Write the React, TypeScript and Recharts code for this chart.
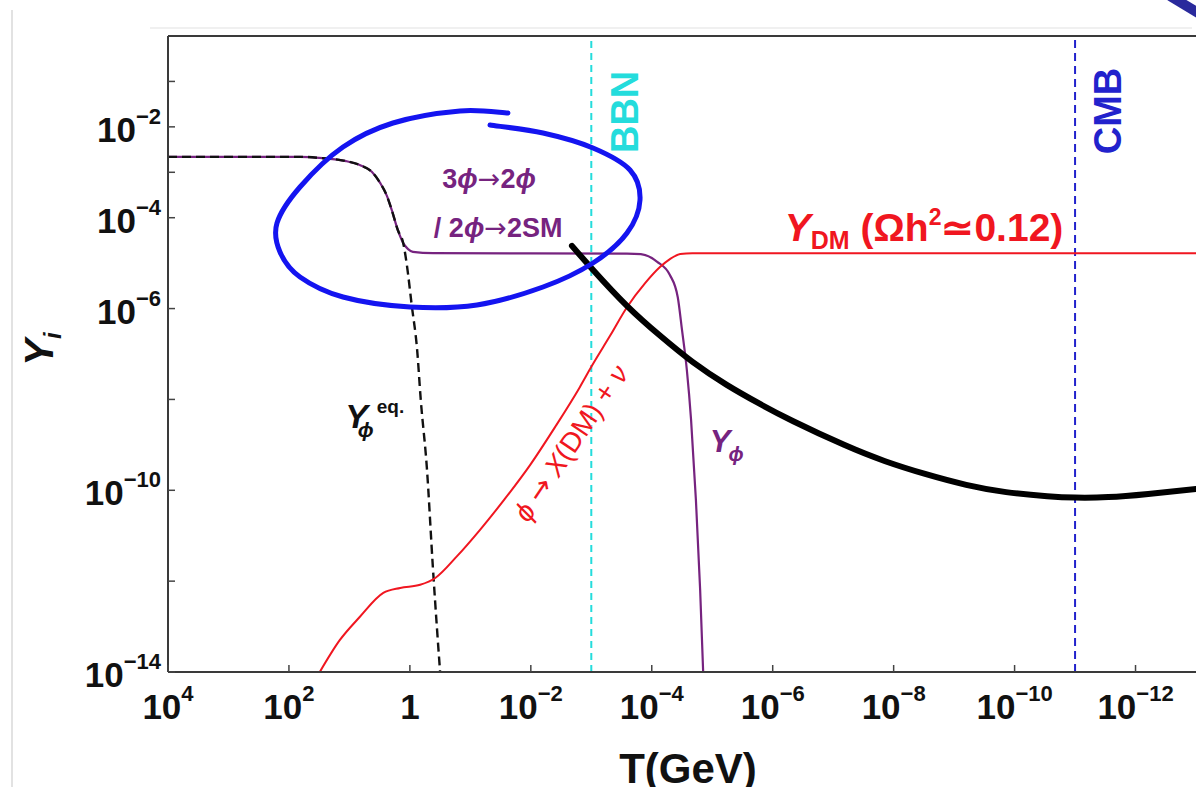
import { LineChart, Line, XAxis, YAxis, ReferenceLine, ReferenceDot } from 'recharts'

// all values are log10: t = log10(T / GeV), y = log10(Y)
const yPhi = [
  [4, -2.66], [1.82, -2.66], [1.44, -2.69], [1.07, -2.75], [0.83, -2.84], [0.63, -2.99],
  [0.49, -3.24], [0.38, -3.52], [0.3, -3.83], [0.2, -4.27], [0.11, -4.56], [0.03, -4.69],
  [-0.05, -4.75], [-0.38, -4.78], [-3.59, -4.79], [-3.82, -4.8], [-4.09, -4.97], [-4.3, -5.26],
  [-4.43, -5.75], [-4.5, -6.47], [-4.58, -7.35], [-4.65, -8.45], [-4.73, -10.21], [-4.8, -12.19],
  [-4.85, -14],
]

const yPhiEq = [
  [4, -2.66], [1.82, -2.66], [1.44, -2.69], [1.07, -2.75], [0.83, -2.84], [0.63, -2.99],
  [0.49, -3.24], [0.38, -3.52], [0.3, -3.83], [0.2, -4.27], [0.11, -4.56], [0.05, -5.04],
  [-0.03, -5.92], [-0.12, -6.91], [-0.18, -8.01], [-0.28, -9.49], [-0.38, -11.69],
  [-0.45, -13.08], [-0.5, -14],
]

const yDM = [
  [1.49, -14], [1.16, -13.3], [0.83, -12.79], [0.44, -12.26], [0.16, -12.15], [-0.17, -12.08],
  [-0.42, -11.93], [-0.78, -11.45], [-1.16, -10.87], [-1.57, -10.19], [-1.99, -9.44],
  [-2.4, -8.61], [-2.81, -7.73], [-3.01, -7.26], [-3.31, -6.6], [-3.59, -5.97], [-3.89, -5.44],
  [-4.14, -5.08], [-4.3, -4.91], [-4.47, -4.8], [-4.67, -4.78], [-13, -4.78],
]

// thick black hand-drawn curve
const handCurve = [
  [-2.68, -4.62], [-3.03, -5.15], [-3.59, -5.94], [-4.14, -6.6], [-4.68, -7.18], [-5.24, -7.68],
  [-5.79, -8.1], [-6.34, -8.48], [-7.18, -9.0], [-7.86, -9.36], [-8.52, -9.64], [-9.2, -9.88],
  [-9.86, -10.04], [-10.54, -10.13], [-11, -10.16], [-11.55, -10.15], [-12.21, -10.08], [-13, -9.97],
]

const BBN = -3
const CMB = -11

const xTicks = [4, 2, 0, -2, -4, -6, -8, -10, -12]
const yTicks = [-1, -2, -3, -4, -6, -8, -10, -12, -14]
const yLabeled = [-2, -4, -6, -10, -14]

const FONT = '"Liberation Sans", Arial, Helvetica, sans-serif'
const ARROW_FONT = '"DejaVu Sans", sans-serif'
const PLOT = { left: 168, top: 36, right: 1196, bottom: 672 }
const PURPLE = '#76237f'
const RED = '#f01620'
const CYAN = '#24dcdc'
const BLUE = '#2222cc'

const rows = (pts: number[][]) => pts.map(([t, y]) => ({ t, y }))
const sup = (e: number) => (e < 0 ? `\u2212${-e}` : `${e}`)

const XTick = ({ x, payload }: any) => {
  const v = payload.value
  return (
    <g>
      <line x1={x} x2={x} y1={PLOT.bottom} y2={PLOT.bottom - 7} stroke="#444" strokeWidth={1.5} />
      <text x={x} y={719} textAnchor="middle" fontFamily={FONT} fontWeight="bold" fontSize={35} fill="#111">
        {v === 0 ? '1' : (
          <>
            10<tspan dy={-18} fontSize={22}>{sup(v)}</tspan>
          </>
        )}
      </text>
    </g>
  )
}

const YTick = ({ y, payload }: any) => {
  const v = payload.value
  return (
    <g>
      <line x1={PLOT.left} x2={PLOT.left + 7} y1={y} y2={y} stroke="#444" strokeWidth={1.5} />
      {yLabeled.includes(v) && (
        <text x={161} y={y + 15} textAnchor="end" fontFamily={FONT} fontWeight="bold" fontSize={35} fill="#111">
          10<tspan dy={-18} fontSize={22}>{sup(v)}</tspan>
        </text>
      )}
    </g>
  )
}

// label anchored at a data point, drawn by a callback
const Anchor = ({ viewBox, draw }: any) => {
  if (!viewBox) return null
  return draw(viewBox.x + (viewBox.width || 0) / 2, viewBox.y + (viewBox.height || 0) / 2)
}

const note = (t: number, y: number, draw: (x: number, y: number) => any) => (
  <ReferenceDot
    x={t}
    y={y}
    r={0}
    fill="none"
    stroke="none"
    ifOverflow="visible"
    label={<Anchor draw={draw} />}
  />
)

const phi = (size: number) => (
  <tspan fontStyle="italic" fontSize={size}>ϕ</tspan>
)
const arrow = <tspan fontFamily={ARROW_FONT} fontWeight="normal">→</tspan>

// hand-drawn ellipse annotation (pixel overlay)
const ellipsePts = [
  [508, 113], [460, 111], [393, 123], [343, 147], [300, 187], [277, 223], [280, 252], [300, 277],
  [343, 297], [410, 307], [477, 305], [543, 287], [593, 263], [627, 233], [640, 200], [630, 170],
  [593, 148], [543, 133], [490, 125],
]

const smooth = (pts: number[][]) => {
  let d = `M${pts[0][0]},${pts[0][1]}`
  for (let i = 0; i < pts.length - 1; i++) {
    const p0 = pts[i - 1] || pts[i]
    const p1 = pts[i]
    const p2 = pts[i + 1]
    const p3 = pts[i + 2] || p2
    const c1x = p1[0] + (p2[0] - p0[0]) / 6
    const c1y = p1[1] + (p2[1] - p0[1]) / 6
    const c2x = p2[0] - (p3[0] - p1[0]) / 6
    const c2y = p2[1] - (p3[1] - p1[1]) / 6
    d += ` C${c1x},${c1y} ${c2x},${c2y} ${p2[0]},${p2[1]}`
  }
  return d
}

export default function App() {
  return (
    <div style={{ position: 'fixed', left: 0, top: 0, width: 1196, height: 787, background: '#fff', overflow: 'hidden' }}>
      <LineChart width={1196} height={787} margin={{ top: PLOT.top, right: 0, bottom: 0, left: 0 }}>
        <XAxis
          type="number"
          dataKey="t"
          domain={[-13, 4]}
          reversed
          allowDataOverflow
          ticks={xTicks}
          interval={0}
          height={115}
          tickLine={false}
          axisLine={{ stroke: '#3a3a3a', strokeWidth: 2 }}
          tick={<XTick />}
        />
        <YAxis
          type="number"
          dataKey="y"
          domain={[-14, 0]}
          allowDataOverflow
          ticks={yTicks}
          interval={0}
          width={168}
          tickLine={false}
          axisLine={{ stroke: '#3a3a3a', strokeWidth: 2 }}
          tick={<YTick />}
        />
        <ReferenceLine y={0} stroke="#3a3a3a" strokeWidth={2} />
        <ReferenceLine x={BBN} stroke={CYAN} strokeWidth={2} strokeDasharray="7 5" />
        <ReferenceLine x={CMB} stroke={BLUE} strokeWidth={2} strokeDasharray="8 5" />

        <Line data={rows(yPhi)} dataKey="y" type="monotone" stroke={PURPLE} strokeWidth={2.2} dot={false} activeDot={false} isAnimationActive={false} />
        <Line data={rows(yPhiEq)} dataKey="y" type="monotone" stroke="#111" strokeWidth={2.4} strokeDasharray="9 5" dot={false} activeDot={false} isAnimationActive={false} />
        <Line data={rows(yDM)} dataKey="y" type="monotone" stroke={RED} strokeWidth={2} dot={false} activeDot={false} isAnimationActive={false} />
        <Line data={rows(handCurve)} dataKey="y" type="natural" stroke="#000" strokeWidth={6} strokeLinecap="round" dot={false} activeDot={false} isAnimationActive={false} />

        {note(-1.31, -3.35, (x, y) => (
          <text x={x} y={y} textAnchor="middle" fontFamily={FONT} fontWeight="bold" fontSize={27} fill={PURPLE}>
            3{phi(27)}{arrow}2{phi(27)}
          </text>
        ))}
        {note(-1.46, -4.42, (x, y) => (
          <text x={x} y={y} textAnchor="middle" fontFamily={FONT} fontWeight="bold" fontSize={27} fill={PURPLE}>
            / 2{phi(27)}{arrow}2SM
          </text>
        ))}
        {note(-6.2, -4.51, (x, y) => (
          <text x={x} y={y} fontFamily={FONT} fontWeight="bold" fontSize={39} fill={RED}>
            <tspan fontStyle="italic">Y</tspan>
            <tspan fontSize={25} dy={8}>DM</tspan>
            <tspan dy={-8}> (Ωh</tspan>
            <tspan fontSize={23} dy={-16}>2</tspan>
            <tspan dy={16}>≃0.12)</tspan>
          </text>
        ))}
        {note(-3.77, -1.67, (x, y) => (
          <text x={x} y={y} textAnchor="middle" transform={`rotate(-90 ${x} ${y})`} fontFamily={FONT} fontWeight="bold" fontSize={38} fill={CYAN}>
            BBN
          </text>
        ))}
        {note(-11.76, -1.65, (x, y) => (
          <text x={x} y={y} textAnchor="middle" transform={`rotate(-90 ${x} ${y})`} fontFamily={FONT} fontWeight="bold" fontSize={38} fill={BLUE}>
            CMB
          </text>
        ))}
        {note(1.07, -8.63, (x, y) => (
          <text x={x} y={y} fontFamily={FONT} fontWeight="bold" fontSize={34} fill="#111">
            <tspan fontStyle="italic">Y</tspan>
            <tspan fontStyle="italic" fontSize={21} dx={-10} dy={9}>ϕ</tspan>
            <tspan fontSize={19} dx={3} dy={-24}>eq.</tspan>
          </text>
        ))}
        {note(-4.96, -9.16, (x, y) => (
          <text x={x} y={y} fontFamily={FONT} fontWeight="bold" fontSize={31} fill={PURPLE}>
            <tspan fontStyle="italic">Y</tspan>
            <tspan fontStyle="italic" fontSize={20} dx={-2} dy={9}>ϕ</tspan>
          </text>
        ))}
        {note(-2.66, -8.96, (x, y) => (
          <text x={x} y={y} textAnchor="middle" dominantBaseline="central" transform={`rotate(-56 ${x} ${y})`} fontFamily={FONT} fontSize={28} fill={RED}>
            <tspan fontStyle="italic">ϕ</tspan> <tspan fontFamily={ARROW_FONT}>→</tspan> <tspan fontStyle="italic">X</tspan>(DM) + <tspan fontStyle="italic">ν</tspan>
          </text>
        ))}
      </LineChart>

      <svg width={1196} height={787} style={{ position: 'absolute', left: 0, top: 0, pointerEvents: 'none' }}>
        <line x1={12} x2={12} y1={10} y2={787} stroke="#e2e2e2" strokeWidth={2} />
        <line x1={150} x2={1192} y1={28} y2={28} stroke="#f0f0f0" strokeWidth={2} />
        <path d={smooth(ellipsePts)} fill="none" stroke="#1414f0" strokeWidth={5} strokeLinecap="round" strokeLinejoin="round" />
        <path d="M1170,-4 L1200,14" stroke="#2a2a9c" strokeWidth={10} />
        <text x={53} y={349} textAnchor="middle" transform="rotate(-90 53 349)" fontFamily={FONT} fontWeight="bold" fontSize={40} fill="#111">
          <tspan fontStyle="italic">Y</tspan>
          <tspan fontStyle="italic" fontSize={24} dy={8}>i</tspan>
        </text>
        <text x={(PLOT.left + PLOT.right) / 2 + 6} y={783} textAnchor="middle" fontFamily={FONT} fontWeight="bold" fontSize={42} fill="#111">
          T(GeV)
        </text>
      </svg>
    </div>
  )
}
